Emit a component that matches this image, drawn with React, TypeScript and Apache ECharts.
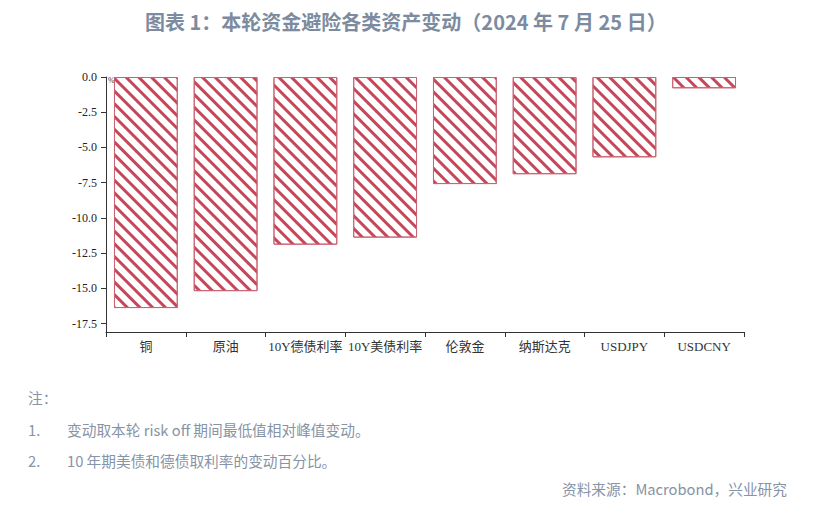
import React, { useEffect, useRef } from "react";
import * as echarts from "echarts";

const categories = ["铜", "原油", "10Y德债利率", "10Y美债利率", "伦敦金", "纳斯达克", "USDJPY", "USDCNY"];
const changes = [-16.4, -15.2, -11.9, -11.4, -7.6, -6.9, -5.7, -0.8];
const yTicks = [0, -2.5, -5, -7.5, -10, -12.5, -15, -17.5];

const noteLines = ["变动取本轮 risk off 期间最低值相对峰值变动。", "10 年期美债和德债取利率的变动百分比。"];

const App: React.FC = () => {
  const chartRef = useRef<HTMLDivElement | null>(null);

  useEffect(() => {
    if (!chartRef.current) return;
    const chart = echarts.init(chartRef.current, null, { renderer: "svg" });

    const noteColor = "#8793a6";
    const cjk = "'Noto Sans CJK SC', 'Noto Sans', sans-serif";

    const option = {
      animation: false,
      backgroundColor: "#ffffff",
      title: {
        text: "图表 1：本轮资金避险各类资产变动（2024 年 7 月 25 日）",
        left: 140,
        top: 6,
        textStyle: {
          fontFamily: cjk,
          fontSize: 20,
          fontWeight: 600,
          color: "#7d8ba0",
        },
      },
      grid: { left: 106, right: 70, top: 77, bottom: 178 },
      xAxis: {
        type: "category",
        data: categories,
        position: "bottom",
        axisLine: { onZero: false, lineStyle: { color: "#333", width: 1 } },
        axisTick: { show: true, length: 5, inside: false, lineStyle: { color: "#333" } },
        axisLabel: {
          interval: 0,
          margin: 8,
          fontSize: 13,
          color: "#333",
          fontFamily: "'Liberation Serif', 'Noto Sans CJK SC', serif",
        },
      },
      yAxis: {
        type: "value",
        max: 0,
        min: -18.1,
        splitLine: { show: false },
        axisLine: { show: true, lineStyle: { color: "#333", width: 1 } },
        axisTick: { show: true, length: 5, customValues: yTicks, lineStyle: { color: "#333" } },
        axisLabel: {
          customValues: yTicks,
          margin: 9,
          fontSize: 12,
          color: "#222",
          fontFamily: "'Liberation Serif', serif",
          formatter: (v: number) => v.toFixed(1),
        },
      },
      series: [
        {
          type: "bar",
          data: changes,
          barWidth: "80%",
          itemStyle: {
            color: "#ffffff",
            borderColor: "#cc6373",
            borderWidth: 1,
            decal: {
              symbol: "rect",
              symbolSize: 1,
              color: "#c4475a",
              dashArrayX: [1, 0],
              dashArrayY: [2.5, 6],
              rotation: Math.PI / 4,
            },
          },
        },
      ],
      graphic: [
        {
          type: "text",
          left: 108,
          top: 76,
          style: { text: "%", fontSize: 8, fill: "#333", fontFamily: "'Liberation Serif', serif" },
        },
        {
          type: "text",
          left: 28,
          top: 390,
          style: { text: "注：", fontSize: 14.7, fill: noteColor, fontFamily: cjk },
        },
        {
          type: "text",
          left: 28,
          top: 422,
          style: { text: "1.", fontSize: 14.7, fill: noteColor, fontFamily: cjk },
        },
        {
          type: "text",
          left: 67,
          top: 422,
          style: { text: noteLines[0], fontSize: 14.7, fill: noteColor, fontFamily: cjk },
        },
        {
          type: "text",
          left: 28,
          top: 453,
          style: { text: "2.", fontSize: 14.7, fill: noteColor, fontFamily: cjk },
        },
        {
          type: "text",
          left: 67,
          top: 453,
          style: { text: noteLines[1], fontSize: 14.7, fill: noteColor, fontFamily: cjk },
        },
        {
          type: "text",
          right: 27,
          top: 481,
          style: { text: "资料来源：Macrobond，兴业研究", fontSize: 14.7, fill: noteColor, fontFamily: cjk },
        },
      ],
    };

    chart.setOption(option);
    return () => chart.dispose();
  }, []);

  return (
    <div style={{ position: "fixed", left: 0, top: 0, width: 814, height: 510, background: "#fff" }}>
      <div ref={chartRef} style={{ width: 814, height: 510 }} />
    </div>
  );
};

export default App;
